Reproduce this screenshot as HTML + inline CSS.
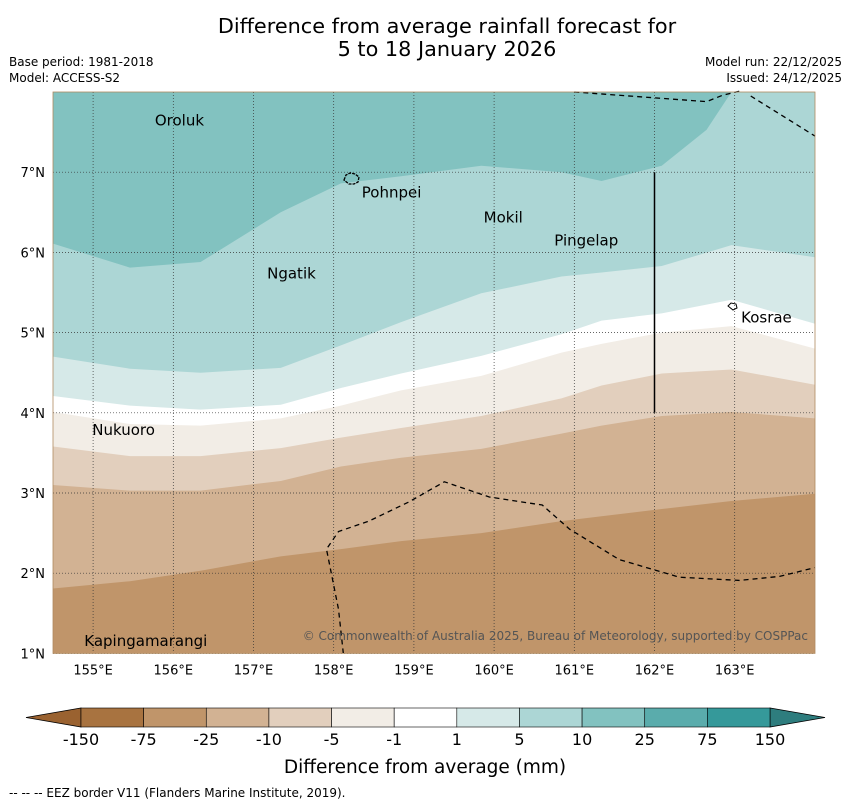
<!DOCTYPE html>
<html><head><meta charset="utf-8"><style>
body{margin:0;background:#fff;font-family:"DejaVu Sans","Liberation Sans",sans-serif;}
svg{display:block}
</style></head><body>
<svg id="c" width="850" height="804" xmlns="http://www.w3.org/2000/svg">
<text x="447" y="33" font-size="20.8" text-anchor="middle">Difference from average rainfall forecast for</text>
<text x="447" y="56" font-size="20.8" text-anchor="middle">5 to 18 January 2026</text>
<text x="9" y="66" font-size="12">Base period: 1981-2018</text>
<text x="9" y="82" font-size="12">Model: ACCESS-S2</text>
<text x="842" y="66" font-size="12" text-anchor="end">Model run: 22/12/2025</text>
<text x="842" y="82" font-size="12" text-anchor="end">Issued: 24/12/2025</text>
<g id="map"></g>
<g id="cb"></g>
<text x="425" y="773" font-size="18.5" text-anchor="middle">Difference from average (mm)</text>
<text x="9" y="797" font-size="12">-- -- -- EEZ border V11 (Flanders Marine Institute, 2019).</text>
</svg>
<script>
const lons=[154.5,155.46,156.34,157.34,158.09,158.84,159.84,160.84,161.34,162.09,162.96,164.03];
const bndA=[1.81,1.90,2.03,2.21,2.30,2.40,2.50,2.65,2.71,2.80,2.90,2.99];
const bndB=[3.10,3.03,3.03,3.15,3.33,3.44,3.55,3.74,3.84,3.96,4.01,3.93];
const bndC=[3.58,3.46,3.46,3.56,3.69,3.81,3.96,4.18,4.34,4.49,4.54,4.35];
const bndD=[4.01,3.86,3.84,3.93,4.09,4.28,4.46,4.75,4.86,5.00,5.08,4.80];
const bndE=[4.21,4.09,4.04,4.10,4.31,4.49,4.71,4.98,5.15,5.24,5.41,5.11];
const bndF=[4.70,4.55,4.50,4.56,4.84,5.13,5.49,5.70,5.75,5.83,6.09,5.94];
const lonsG=[154.5,155.46,156.34,157.34,158.09,158.84,159.84,160.84,161.34,162.09,162.65,162.96];
const bndG=[6.11,5.81,5.88,6.50,6.86,6.95,7.08,7.00,6.89,7.08,7.53,8.0];
const levels=["-150","-75","-25","-10","-5","-1","1","5","10","25","75","150"];
const cbColors=["#a87340","#c0956a","#d2b293","#e2cfbd","#f2ede6","#ffffff","#d6e9e8","#acd6d5","#82c2c0","#5aacac","#35999a"];
const lonTicks=[155,156,157,158,159,160,161,162,163];
const latTicks=[1,2,3,4,5,6,7];
const places=[["Oroluk",155.77,7.66],["Pohnpei",158.35,6.76],["Mokil",159.87,6.45],["Pingelap",160.75,6.16],["Ngatik",157.17,5.75],["Kosrae",163.08,5.2],["Nukuoro",154.99,3.8],["Kapingamarangi",154.89,1.17]];
const eezTop=[[161.0,8.0],[162.65,7.88],[162.85,7.96],[163.1,8.02]];
const eezTop2=[[163.2,7.95],[164.03,7.45]];
const eezBot=[[158.12,1.0],[158.06,1.55],[157.91,2.3],[158.06,2.52],[158.44,2.65],[158.94,2.89],[159.38,3.14],[159.94,2.95],[160.6,2.85],[160.94,2.55],[161.56,2.17],[162.31,1.95],[163.06,1.91],[163.56,1.96],[164.03,2.07]];
const X0=53,Y0=92,S=80.2;
const x=lon=>X0+(lon-154.5)*S;
const y=lat=>Y0+(8-lat)*S;
const NS="http://www.w3.org/2000/svg";
const map=document.getElementById('map');
function mk(tag,attrs,parent){const e=document.createElementNS(NS,tag);for(const k in attrs)e.setAttribute(k,attrs[k]);(parent||map).appendChild(e);return e;}
const R=815,B=y(1);
let bg=mk('rect',{x:X0,y:Y0,width:R-X0,height:B-Y0,fill:'#acd6d5'});


let gp=lonsG.map((l,i)=>x(l)+','+y(bndG[i])).join(' ');
let g=mk('polygon',{points:X0+','+Y0+' '+gp,fill:'#82c2c0'});


const bands=[[bndF,'#d6e9e8','band-1-to-5'],[bndE,'#ffffff','band-neutral'],[bndD,'#f2ede6','band-minus5-to-minus1'],[bndC,'#e2cfbd','band-minus10-to-minus5'],[bndB,'#d2b293','band-minus25-to-minus10'],[bndA,'#c0956a','band-minus75-to-minus25']];
bands.forEach(([b,c,n])=>{
  const pts=lons.map((l,i)=>Math.min(x(l),R)+','+y(b[i])).join(' ')+' '+R+','+B+' '+X0+','+B;
  const p=mk('polygon',{points:pts,fill:c});
  
  
});
lonTicks.forEach(l=>{
  const ln=mk('line',{x1:x(l),x2:x(l),y1:Y0,y2:B,stroke:'#333','stroke-width':0.7,'stroke-dasharray':'1,2'});
  
  
  const t=mk('text',{x:x(l),y:B+21,'font-size':13,'text-anchor':'middle'});t.textContent=l+'°E';
  
  
});
latTicks.forEach(l=>{
  const ln=mk('line',{x1:X0,x2:R,y1:y(l),y2:y(l),stroke:'#333','stroke-width':0.7,'stroke-dasharray':'1,2'});
  
  
  const t=mk('text',{x:45,y:y(l)+5,'font-size':13,'text-anchor':'end'});t.textContent=l+'°N';
  
  
});
[eezTop,eezTop2,eezBot].forEach(a=>{
  const p=mk('polyline',{points:a.map(q=>Math.min(x(q[0]),R)+','+y(q[1])).join(' '),fill:'none',stroke:'#000','stroke-width':1.3,'stroke-dasharray':'5,4'});
  
  
});
const vl=mk('line',{x1:x(162),x2:x(162),y1:y(7),y2:y(4),stroke:'#000','stroke-width':1.5});


const pi=mk('path',{d:'M344,180 l2,-5 4,-2 5,1 4,3 -1,5 -4,2 -5,0z',fill:'none',stroke:'#000','stroke-width':1.3,'stroke-dasharray':'3,1'});


const ki=mk('path',{d:'M728,306 l3,-3 5,1 1,4 -4,2z',fill:'none',stroke:'#000','stroke-width':1});


places.forEach(([n,lo,la])=>{
  const t=mk('text',{x:x(lo),y:y(la)+6,'font-size':15});t.textContent=n;
  
  
});
const cp=mk('text',{x:808,y:640,'font-size':12,'text-anchor':'end',fill:'#555'});cp.textContent='© Commonwealth of Australia 2025, Bureau of Meteorology, supported by COSPPac';


const fr=mk('rect',{x:X0,y:Y0,width:R-X0,height:B-Y0,fill:'none',stroke:'#b08a60','stroke-width':0.8});


const cb=document.getElementById('cb');
const CX0=81,CX1=770,CY=708,CH=19,w=(CX1-CX0)/cbColors.length;
const lt=mk('polygon',{points:`26,${CY+CH/2} ${CX0},${CY} ${CX0},${CY+CH}`,fill:'#9a6230',stroke:'#000','stroke-width':0.8},cb);


const rt=mk('polygon',{points:`825,${CY+CH/2} ${CX1},${CY} ${CX1},${CY+CH}`,fill:'#2e7d7e',stroke:'#000','stroke-width':0.8},cb);


cbColors.forEach((c,i)=>{
  const r=mk('rect',{x:CX0+i*w,y:CY,width:w,height:CH,fill:c,stroke:'#000','stroke-width':0.6},cb);
  
  
});
levels.forEach((l,i)=>{
  const t=mk('text',{x:CX0+i*w,y:745,'font-size':16,'text-anchor':'middle'},cb);t.textContent=l;
  
  
});
</script>
</body></html>
